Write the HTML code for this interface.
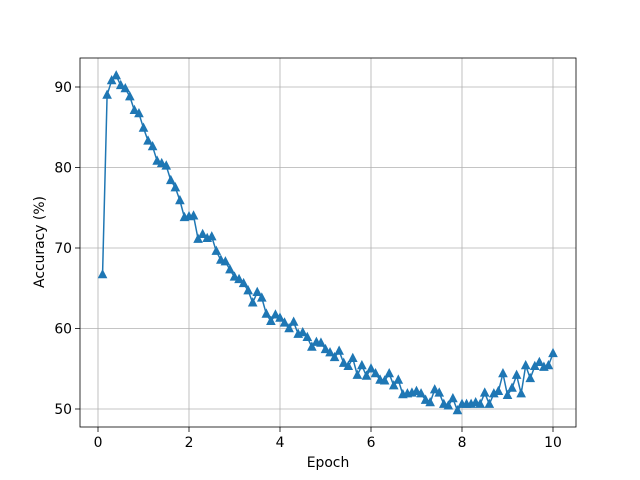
<!DOCTYPE html>
<html><head><meta charset="utf-8"><style>
body{margin:0;background:#fff;}
svg{display:block;font-family:"DejaVu Sans","Liberation Sans",sans-serif;}
</style></head><body>
<svg id="chart" width="640" height="480">
<rect x="0" y="0" width="640" height="480" fill="#fff"/>
<g id="grid"></g>
<g id="series"></g>
<rect x="80" y="58" width="496" height="369" fill="none" stroke="#000" stroke-width="0.8"/>
<g id="ticks"></g>
<text x="328" y="467" text-anchor="middle" font-size="13.9">Epoch</text>
<text x="44" y="242" text-anchor="middle" font-size="13.9" transform="rotate(-90 44 242)">Accuracy (%)</text>
</svg>
<script>
const xTicks = [0, 2, 4, 6, 8, 10];
const yTicks = [50, 60, 70, 80, 90];
const accuracy = [66.7,89,90.8,91.4,90.2,89.8,88.8,87.1,86.7,84.9,
83.3,82.6,80.8,80.5,80.2,78.4,77.5,75.9,73.8,73.9,
74.0,71.1,71.7,71.2,71.4,69.6,68.5,68.3,67.3,66.4,
66.1,65.6,64.7,63.2,64.5,63.8,61.8,60.9,61.7,61.3,
60.7,60.0,60.8,59.3,59.5,58.9,57.7,58.3,58.2,57.4,
57.0,56.4,57.2,55.7,55.3,56.3,54.2,55.4,54.1,55.0,
54.4,53.6,53.5,54.4,52.9,53.6,51.8,51.9,52.0,52.2,
51.9,51.1,50.8,52.4,52.0,50.6,50.4,51.3,49.8,50.6,
50.6,50.6,50.8,50.6,52.0,50.6,51.9,52.2,54.4,51.7,
52.6,54.2,51.9,55.4,53.8,55.3,55.8,55.2,55.4,56.9];
const epochs = accuracy.map((_, i) => (i + 1) / 10);

const NS = "http://www.w3.org/2000/svg";
const X = v => 98 + v * 45.5;
const Y = v => 87 + (90 - v) * 8.05;
function mk(tag, attrs, parent) {
  const e = document.createElementNS(NS, tag);
  for (const k in attrs) e.setAttribute(k, attrs[k]);
  parent.appendChild(e);
  return e;
}
const grid = document.getElementById('grid');
const ticks = document.getElementById('ticks');
const series = document.getElementById('series');
xTicks.forEach(t => {
  const g = mk('line', {x1: X(t), x2: X(t), y1: 58, y2: 427, stroke: '#b0b0b0', 'stroke-width': 0.8}, grid);
  
  
  const tk = mk('line', {x1: X(t), x2: X(t), y1: 427, y2: 432, stroke: '#000', 'stroke-width': 0.8}, ticks);
  
  
  const l = mk('text', {x: X(t), y: 447, 'text-anchor': 'middle', 'font-size': 13.9}, ticks);
  l.textContent = t;
  
  
});
yTicks.forEach(t => {
  const g = mk('line', {x1: 80, x2: 576, y1: Y(t), y2: Y(t), stroke: '#b0b0b0', 'stroke-width': 0.8}, grid);
  
  
  const tk = mk('line', {x1: 75, x2: 80, y1: Y(t), y2: Y(t), stroke: '#000', 'stroke-width': 0.8}, ticks);
  
  
  const l = mk('text', {x: 72, y: Y(t) + 5, 'text-anchor': 'end', 'font-size': 13.9}, ticks);
  l.textContent = t;
  
  
});
const pts = accuracy.map((v, i) => X(epochs[i]) + ',' + Y(v)).join(' ');
const line = mk('polyline', {points: pts, fill: 'none', stroke: '#1f77b4', 'stroke-width': 1.5, 'stroke-linejoin': 'round'}, series);


accuracy.forEach((v, i) => {
  const cx = X(epochs[i]), cy = Y(v);
  const m = mk('polygon', {points: `${cx},${cy-4.5} ${cx-4},${cy+3.2} ${cx+4},${cy+3.2}`, fill: '#1f77b4', stroke: '#1f77b4', 'stroke-width': 1}, series);
  
  
});
</script>
</body></html>
